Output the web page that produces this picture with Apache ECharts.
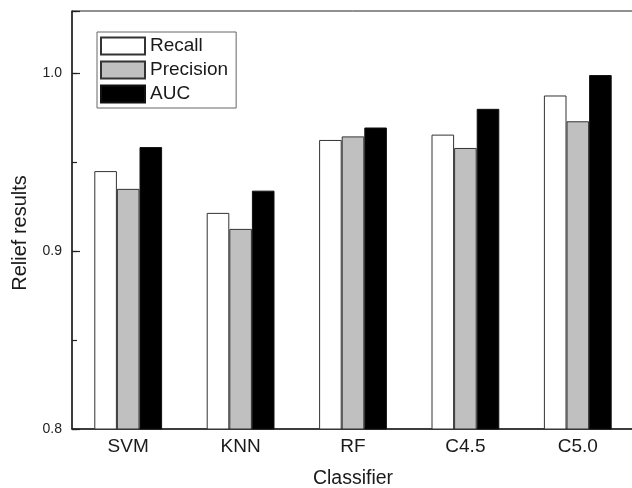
<!DOCTYPE html>
<html>
<head>
<meta charset="utf-8">
<script src="https://cdn.jsdelivr.net/npm/echarts@6/dist/echarts.min.js"></script>
<style>
  html, body { margin: 0; padding: 0; background: #fff; }
  #chart { width: 632px; height: 488px; }
</style>
</head>
<body>
<div id="chart"></div>
<script>
'use strict';
// values
let classifiers = ['SVM', 'KNN', 'RF', 'C4.5', 'C5.0'];
let recall = [0.945, 0.9215, 0.9625, 0.9655, 0.9875];
let precision = [0.935, 0.9125, 0.9645, 0.958, 0.973];
let auc = [0.9585, 0.934, 0.9695, 0.98, 0.999];
let yMin = 0.8;
let yMax = 1.035;

let dom = document.getElementById('chart');
let myChart = echarts.init(dom);
let font = 'Liberation Sans, Arial, sans-serif';
let ink = '#1a1a1a';

function labelTenth(v) {
    let k = v * 10;
    return Math.abs(k - Math.round(k)) < 1e-6 ? v.toFixed(1) : '';
}

let option = {
    animation: false,
    backgroundColor: '#fff',
    textStyle: { fontFamily: font, color: ink },
    grid: {
        left: 72, top: 11, bottom: 59, right: -2,
        outerBoundsMode: 'none',
        containLabel: false,
        show: true, borderColor: '#222', borderWidth: 1
    },
    legend: {
        orient: 'vertical',
        left: 97, top: 32,
        padding: [4, 8, 4, 3],
        itemWidth: 44, itemHeight: 17,
        itemGap: 4,
        borderColor: '#666', borderWidth: 1,
        icon: 'rect',
        textStyle: { fontSize: 19, color: ink, fontFamily: font, lineHeight: 20 },
        data: ['Recall', 'Precision', 'AUC']
    },
    xAxis: {
        type: 'category',
        data: classifiers,
        name: 'Classifier',
        nameLocation: 'middle',
        nameGap: 40,
        nameTextStyle: { fontSize: 19.5, color: ink },
        axisLine: { lineStyle: { color: '#222', width: 1.5 } },
        axisTick: { show: false },
        axisLabel: { fontSize: 19, color: ink, margin: 8 }
    },
    yAxis: [{
        type: 'value',
        min: yMin, max: yMax,
        interval: 0.1,
        name: 'Relief results',
        nameLocation: 'middle',
        nameGap: 42,
        nameTextStyle: { fontSize: 20, color: ink, padding: [0, 26, 0, 0] },
        axisLine: { show: true, lineStyle: { color: '#222', width: 1.5 } },
        axisTick: { show: true, inside: true, length: 8, lineStyle: { color: '#222', width: 1.2 } },
        axisLabel: { fontSize: 14, color: '#222', margin: 10, formatter: labelTenth },
        splitLine: { show: false }
    }, {
        type: 'value',
        min: yMin, max: yMax,
        interval: 0.05,
        position: 'left',
        axisLine: { show: false },
        axisTick: { show: true, inside: true, length: 5, lineStyle: { color: '#222', width: 1.2 } },
        axisLabel: { show: false },
        splitLine: { show: false }
    }],
    series: [{
        name: 'Recall',
        type: 'bar',
        barWidth: 22.6,
        barGap: '0%',
        data: recall,
        itemStyle: { color: '#ffffff', borderColor: '#333', borderWidth: 1 }
    }, {
        name: 'Precision',
        type: 'bar',
        barWidth: 22.6,
        barGap: '0%',
        data: precision,
        itemStyle: { color: '#c0c0c0', borderColor: '#333', borderWidth: 1 }
    }, {
        name: 'AUC',
        type: 'bar',
        barWidth: 22.6,
        barGap: '0%',
        data: auc,
        itemStyle: { color: '#000000', borderColor: '#111', borderWidth: 1 }
    }]
};
myChart.setOption(option);
</script>
</body>
</html>
